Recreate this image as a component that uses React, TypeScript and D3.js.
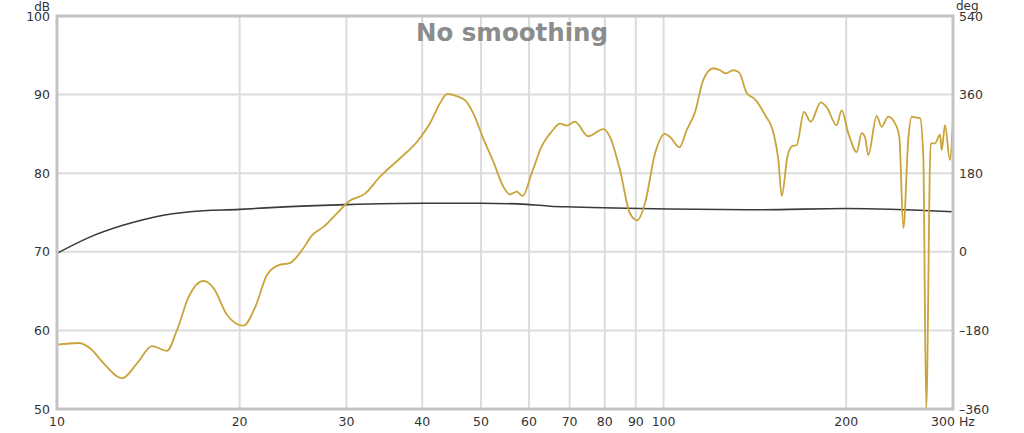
import React from "react";
import * as d3 from "d3";

const W = 1024;
const H = 433;
const M = { left: 57, right: 953, top: 16, bottom: 409 };

const dbTicks = [50, 60, 70, 80, 90, 100];
const degTicks = [-360, -180, 0, 180, 360, 540];
const freqTicks = [10, 20, 30, 40, 50, 60, 70, 80, 90, 100, 200, 300];
const freqGrid = [20, 30, 40, 50, 60, 70, 80, 90, 100, 200];
const dbGrid = [60, 70, 80, 90];

const goldFreq = [
  10, 10.86, 11.35, 11.94, 12.8, 13.55, 14.34, 15.18, 15.77, 16.49, 17.45, 18.13, 19.06, 20.3,
  21.23, 22.19, 23.2, 24.24, 25.34, 26.33, 27.53, 28.94, 30.26, 32.2, 34.08, 36.78, 39.41, 41.2,
  42.79, 43.99, 45.6, 47.05, 48.57, 50.44, 52.39, 54.41, 55.81, 57.25, 58.57, 60.61, 62.95, 65.4,
  67.5, 69.2, 71.4, 75.1, 79.55, 81.6, 84.75, 88.0, 90.5, 93.2, 96.8, 100.5, 102.5, 106.2, 109.2,
  112.7, 116.3, 120.8, 123.9, 126.7, 130.3, 133.3, 137.1, 141.5, 147, 152, 154.6, 156.6, 160,
  162.6, 165.8, 170.4, 174.8, 181.6, 185.7, 192.9, 196.6, 201.6, 208.2, 212.1, 214.8, 217.5,
  224.5, 228.8, 234.6, 240.7, 244.7, 248.5, 253.2, 256.5, 260, 264.7, 268, 271, 275.6, 280.2,
  285.6, 287.4, 291, 296.5, 300,
];
const goldDb = [
  58.2, 58.4, 57.7, 55.8, 53.9, 55.8, 58.0, 57.4, 60.05, 64.3, 66.3, 65.35, 62.0, 60.6,
  63.0, 67.05, 68.3, 68.6, 70.2, 72.1, 73.2, 74.9, 76.4, 77.4, 79.55, 81.9, 84.2, 86.35,
  88.9, 90.1, 89.8, 89.3, 87.6, 84.4, 81.5, 78.3, 77.3, 77.65, 77.1, 80.0, 83.4, 85.3,
  86.3, 86.05, 86.55, 84.7, 85.6, 84.6, 80.4, 74.9, 74.0, 76.2, 82.5, 85.0, 84.6, 83.3, 85.5,
  87.8, 91.9, 93.35, 93.1, 92.7, 93.1, 92.8, 90.2, 89.4, 87.4, 84.9, 81.7, 77.1, 82.1,
  83.4, 83.6, 87.8, 86.55, 89.0, 88.4, 86.1, 88.0, 85.1, 82.7, 85.1, 84.6, 82.3,
  87.3, 85.9, 87.2, 86.35, 84.6, 73.0, 84.4, 87.2, 87.1, 87.0, 82.1, 50.0, 83.8, 83.8,
  84.9, 82.95, 86.1, 81.7, 87.0,
];

const blackFreq = [10, 11.35, 12.88, 14.62, 16.58, 20, 24.2, 30, 40, 50, 59.5, 65, 71, 102, 144, 200, 300];
const blackDb = [69.8, 71.9, 73.4, 74.5, 75.1, 75.4, 75.75, 76.0, 76.17, 76.17, 76.04, 75.8, 75.7, 75.45, 75.35, 75.5, 75.1];

export default function App() {
  const x = d3.scaleLog().domain([10, 300]).range([M.left, M.right]);
  const y = d3.scaleLinear().domain([50, 100]).range([M.bottom, M.top]);
  const yDeg = d3.scaleLinear().domain([-360, 540]).range([M.bottom, M.top]);

  const line = d3
    .line<[number, number]>()
    .x((d) => x(d[0]))
    .y((d) => y(d[1]))
    .curve(d3.curveMonotoneX);

  const gold = line(goldFreq.map((f, i) => [f, goldDb[i]] as [number, number])) || "";
  const black = line(blackFreq.map((f, i) => [f, blackDb[i]] as [number, number])) || "";

  const font = "'DejaVu Sans', Verdana, sans-serif";

  return (
    <svg
      width={W}
      height={H}
      style={{ position: "absolute", left: 0, top: 0, display: "block", background: "#fff" }}
    >
      <defs>
        <clipPath id="plot">
          <rect x={M.left} y={M.top} width={M.right - M.left} height={M.bottom - M.top} />
        </clipPath>
      </defs>
      {freqGrid.map((f) => (
        <line key={"vf" + f} x1={x(f)} x2={x(f)} y1={M.top} y2={M.bottom} stroke="#dcdcdc" strokeWidth={2} />
      ))}
      {dbGrid.map((v) => (
        <line key={"hd" + v} x1={M.left} x2={M.right} y1={y(v)} y2={y(v)} stroke="#dcdcdc" strokeWidth={2} />
      ))}
      <text x={512} y={41} textAnchor="middle" fontFamily={font} fontWeight="bold" fontSize={24.5} fill="#8c8c8c">
        No smoothing
      </text>
      <g clipPath="url(#plot)">
        <path d={black} fill="none" stroke="#3a3a3a" strokeWidth={1.6} />
        <path d={gold} fill="none" stroke="#c9a43a" strokeWidth={1.8} strokeLinejoin="round" />
      </g>
      <rect
        x={M.left}
        y={M.top}
        width={M.right - M.left}
        height={M.bottom - M.top}
        fill="none"
        stroke="#c4c4c4"
        strokeWidth={3}
      />
      {dbTicks.map((v) => (
        <text key={"ld" + v} x={50} y={y(v)} dy="0.36em" textAnchor="end" fontFamily={font} fontSize={12.5} fill="#333">
          {v}
        </text>
      ))}
      <text x={50} y={10.5} textAnchor="end" fontFamily={font} fontSize={12} fill="#333">
        dB
      </text>
      {degTicks.map((v) => (
        <text key={"rd" + v} x={959} y={yDeg(v)} dy="0.36em" textAnchor="start" fontFamily={font} fontSize={12.5} fill="#333">
          {v < 0 ? "\u2013" + Math.abs(v) : v}
        </text>
      ))}
      <text x={956} y={10} textAnchor="start" fontFamily={font} fontSize={12} fill="#333">
        deg
      </text>
      {freqTicks.map((f) => (
        <text key={"xf" + f} x={x(f)} y={426} textAnchor="middle" fontFamily={font} fontSize={12.5} fill="#333">
          {f === 300 ? "300 Hz" : f}
        </text>
      ))}
    </svg>
  );
}
